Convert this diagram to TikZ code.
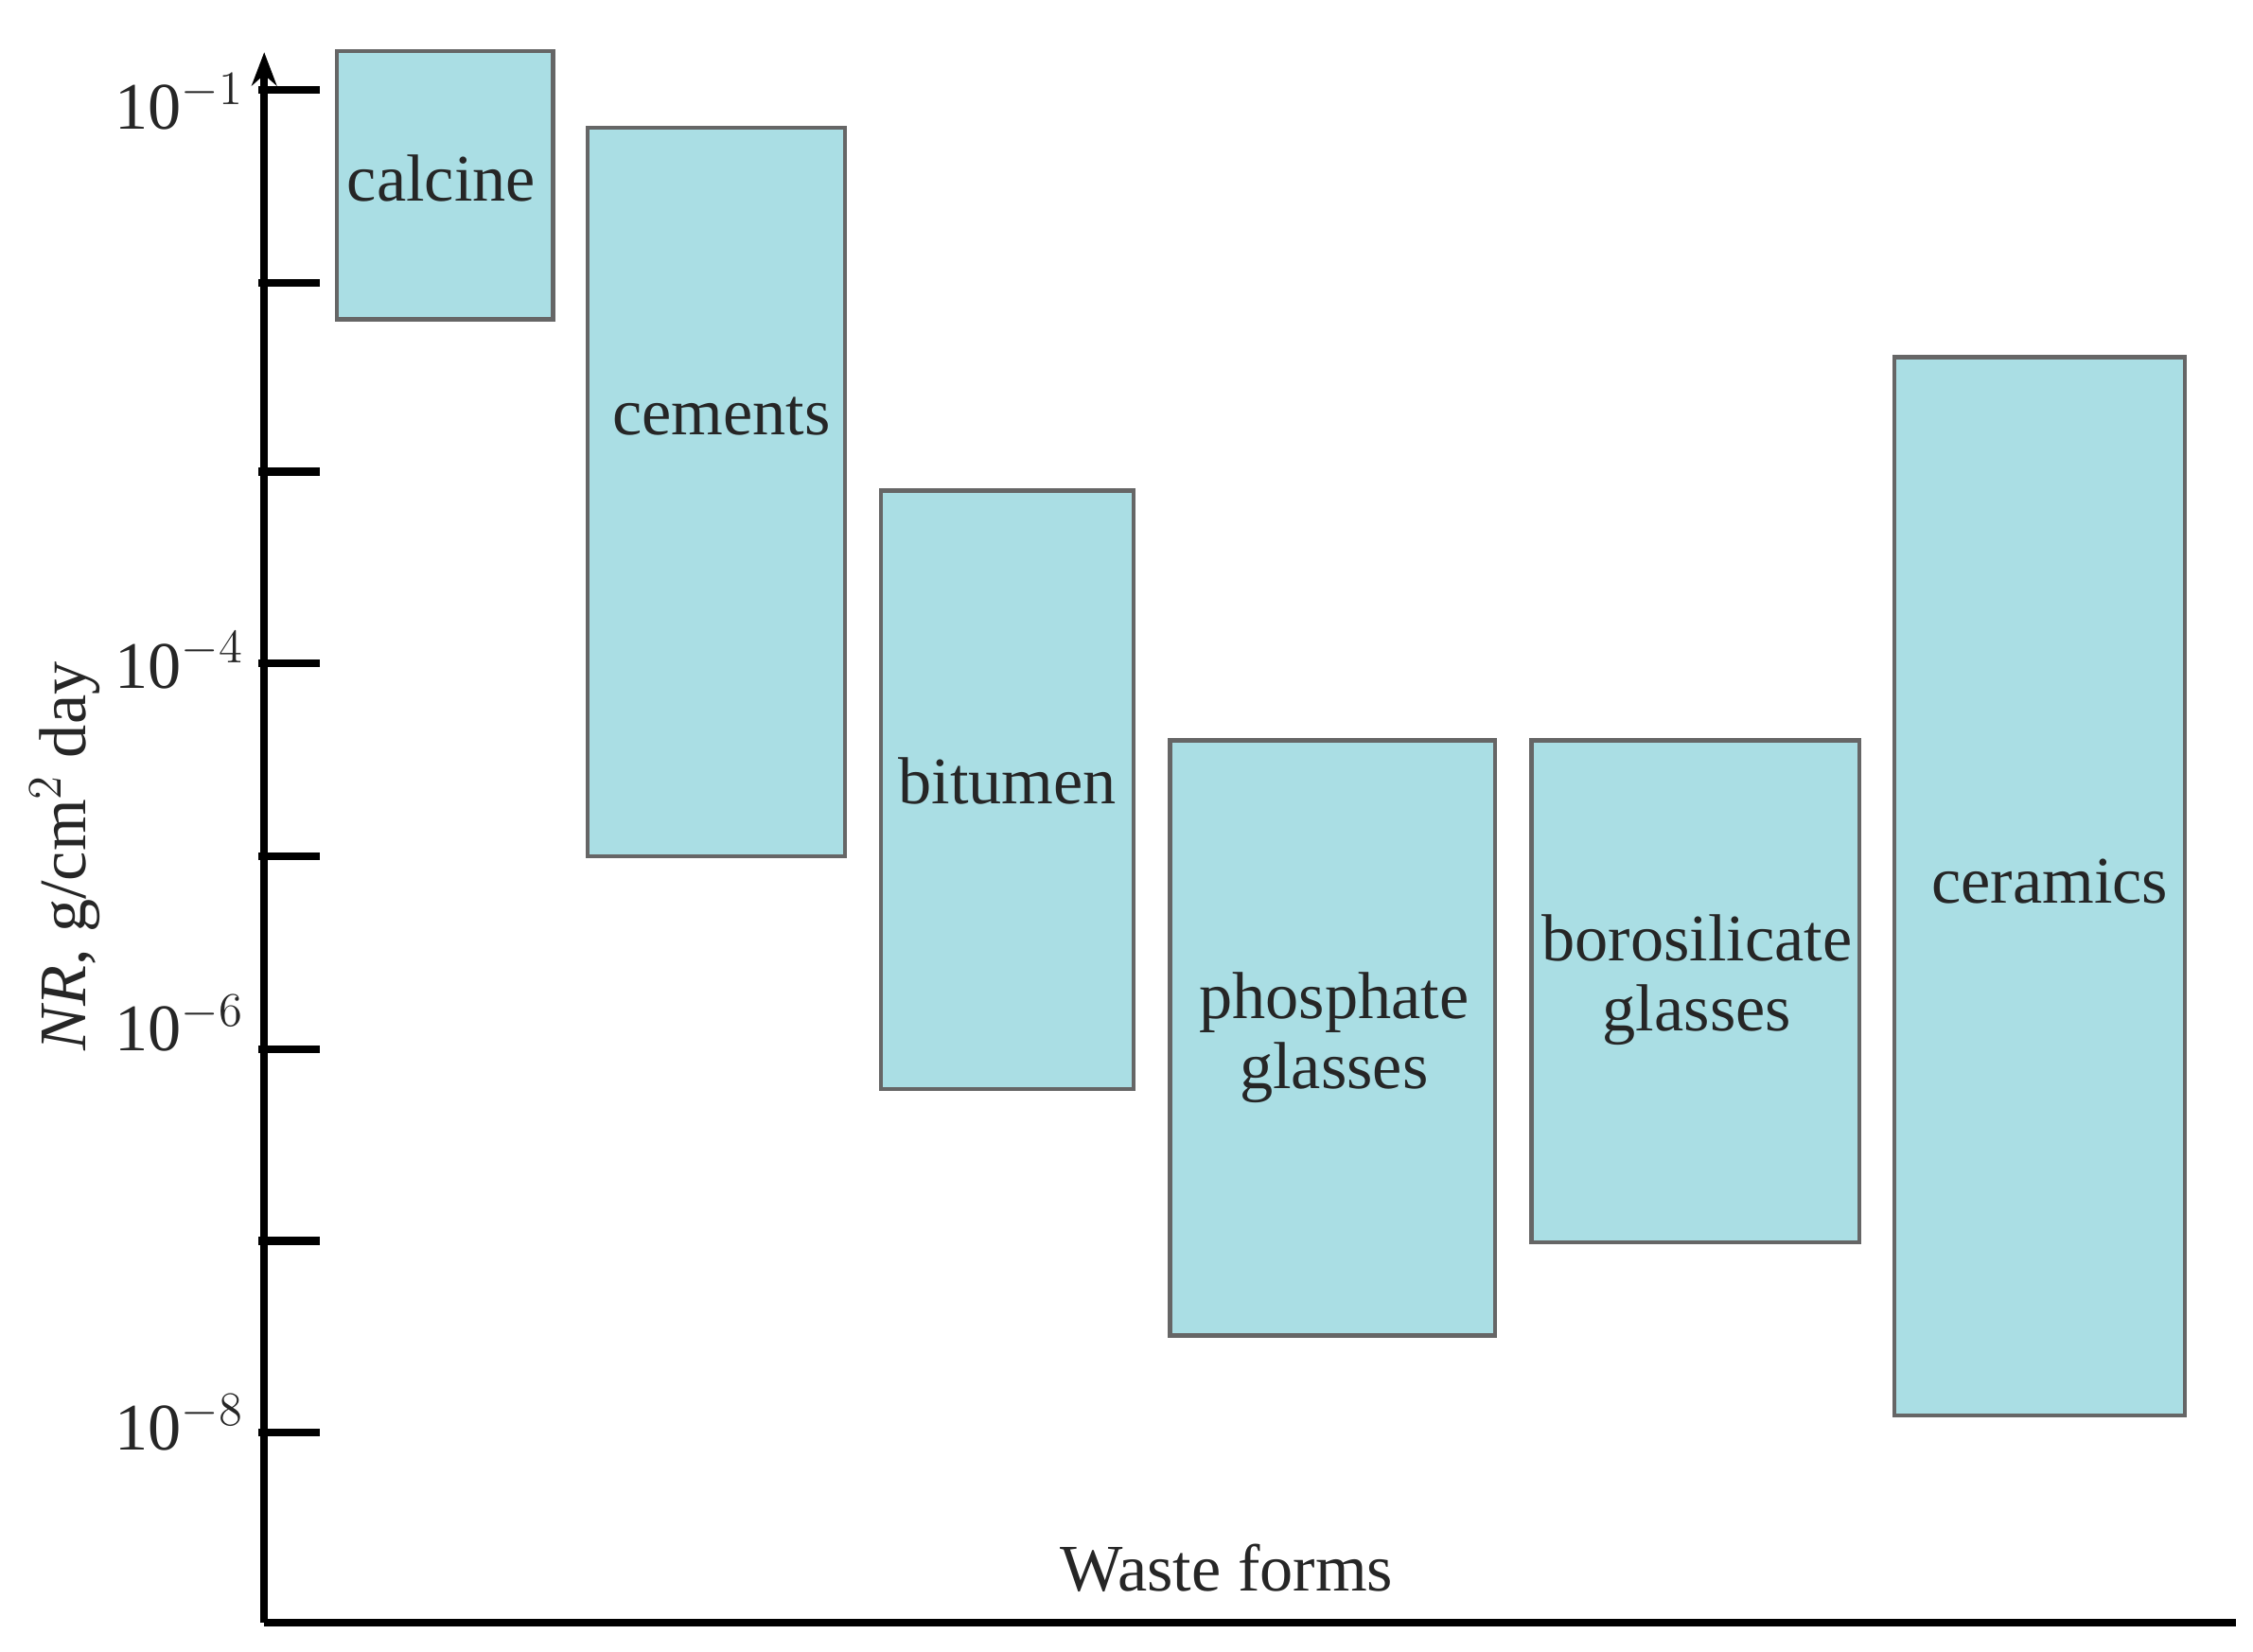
\documentclass[tikz,border=0pt]{standalone}
\usepackage{amsmath}
\usepackage{fontspec}
\setmainfont{Liberation Serif}
\usetikzlibrary{arrows.meta}
\definecolor{boxcyan}{RGB}{170,222,228}
\tikzset{
  form/.style={draw=gray!80!black,fill=boxcyan,line width=1.2pt},
  formlabel/.style={font=\fontsize{20}{23}\selectfont,align=center,text=black!85},
  ticklabel/.style={font=\fontsize{20}{23}\selectfont,anchor=east,text=black!85}
}
\begin{document}
\begin{tikzpicture}[x=0.01534cm,y=-0.01534cm]
    \useasboundingbox (0,0) rectangle (1552,1138);
    % axes
    \coordinate (origin) at (182,1118);
    \coordinate (ytop) at (182,36);
    \coordinate (xend) at (1540,1118);
    \draw[line width=2.4pt,-{Stealth[length=10pt]}] (origin) -- (ytop);
    \draw[line width=2.4pt] (origin) -- (xend);
    % ticks
    \foreach \y in {62,195,325,457,590,723,855,987}
        \draw[line width=2.4pt] (178,\y) -- (220,\y);
    \node[ticklabel] at (176,70) {10$^{-1}$};
    \node[ticklabel] at (176,455) {10$^{-4}$};
    \node[ticklabel] at (176,705) {10$^{-6}$};
    \node[ticklabel] at (176,980) {10$^{-8}$};
    % waste forms
    \draw[form] (232,35) rectangle (381,220);
    \draw[form] (405,88) rectangle (582,590);
    \draw[form] (607,338) rectangle (781,750);
    \draw[form] (806,510) rectangle (1030,920);
    \draw[form] (1055,510) rectangle (1281,856);
    \draw[form] (1305,246) rectangle (1505,975);
    \node[formlabel] (calcine) at (304,123) {calcine};
    \node[formlabel] (cements) at (497,287) {cements};
    \node[formlabel] (bitumen) at (694,538) {bitumen};
    \node[formlabel] (phosphate) at (919,715) {phosphate\\[-2pt]glasses};
    \node[formlabel] (borosilicate) at (1169,675) {borosilicate\\[-2pt]glasses};
    \node[formlabel] (ceramics) at (1412,607) {ceramics};
    % axis titles
    \node[formlabel] (xtitle) at (845,1080) {Waste forms};
    \node[formlabel,rotate=90] (ytitle) at (45,590) {\textit{NR}, g/cm$^2$ day};
\end{tikzpicture}
\end{document}
